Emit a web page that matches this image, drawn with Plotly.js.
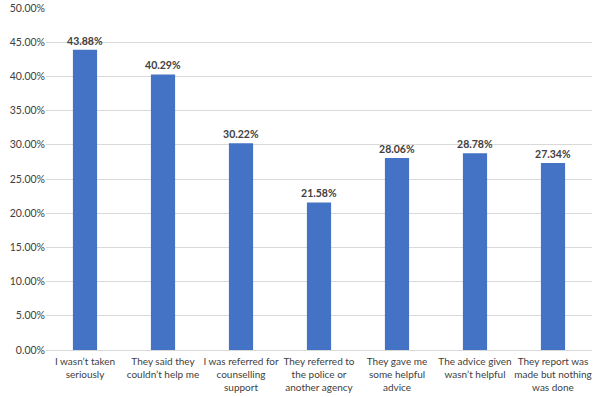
<!DOCTYPE html>
<html><head><meta charset="utf-8">
<script src="https://cdn.plot.ly/plotly-3.0.1.min.js"></script>
<style>html,body{margin:0;padding:0;background:#fff;}#chart{width:602px;height:397px;}</style>
</head><body><div id="chart"></div>
<script>
const categories = [
  "I wasn’t taken<br>seriously",
  "They said they<br>couldn’t help me",
  "I was referred for<br>counselling<br>support",
  "They referred to<br>the police or<br>another agency",
  "They gave me<br>some helpful<br>advice",
  "The advice given<br>wasn’t helpful",
  "They report was<br>made but nothing<br>was done"
];
const values = [0.4388, 0.4029, 0.3022, 0.2158, 0.2806, 0.2878, 0.2734];
const tickVals = [0, 0.05, 0.10, 0.15, 0.20, 0.25, 0.30, 0.35, 0.40, 0.45, 0.50];

const fontFam = "Lato, Liberation Sans, Arial, sans-serif";
Plotly.newPlot('chart', [{
  type: 'bar',
  x: categories,
  y: values,
  marker: {color: '#4472C4'},
  width: 0.31,
  text: values.map(v => (v*100).toFixed(2) + '%'),
  textposition: 'outside',
  constraintext: 'none',
  cliponaxis: false,
  textfont: {family: fontFam, size: 10.5, color: '#404040', weight: 'bold'},
  hoverinfo: 'none'
}], {
  width: 602, height: 397,
  margin: {l: 46, r: 10, t: 8, b: 47},
  paper_bgcolor: '#fff', plot_bgcolor: '#fff',
  showlegend: false,
  xaxis: {
    tickangle: 0,
    ticklabelstandoff: 2,
    tickfont: {family: fontFam, size: 10, color: '#404040'},
    showline: true, linecolor: '#d9d9d9', linewidth: 1,
    ticks: '', automargin: false
  },
  yaxis: {
    range: [0, 0.5],
    tickvals: tickVals,
    tickformat: '.2%',
    tickfont: {family: fontFam, size: 10.5, color: '#404040'},
    showgrid: true, gridcolor: '#d9d9d9', gridwidth: 1,
    zeroline: false, showline: false, ticks: '', automargin: false
  }
}, {displayModeBar: false, staticPlot: true});
</script>
</body></html>
